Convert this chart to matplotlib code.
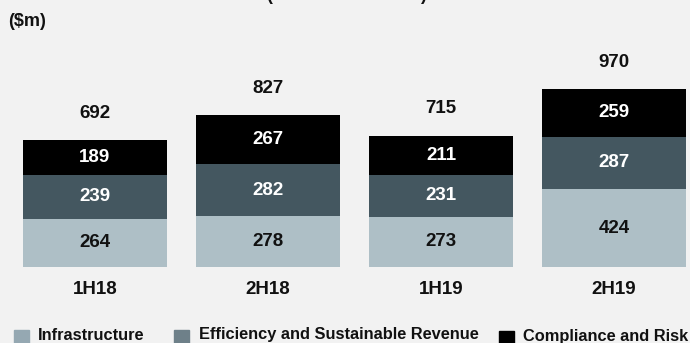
import matplotlib.pyplot as plt
import numpy as np
from matplotlib.patches import Rectangle

periods = ["1H18", "2H18", "1H19", "2H19"]
infrastructure = [264, 278, 273, 424]
efficiency = [239, 282, 231, 287]
compliance = [189, 267, 211, 259]
totals = [692, 827, 715, 970]
series_names = ["Infrastructure", "Efficiency and Sustainable Revenue", "Compliance and Risk"]

bg = "#f2f2f2"
c_infra = "#aebfc6"
c_eff = "#445760"
c_comp = "#000000"
leg_colors = ["#95a8b2", "#6e8089", "#000000"]

plt.rcParams['font.family'] = ['Liberation Sans', 'DejaVu Sans']
plt.rcParams['font.weight'] = 'bold'

fig = plt.figure(figsize=(6.9, 3.43), dpi=100, facecolor=bg)
W, H = 690, 343
ax = fig.add_axes([0, 76 / H, 1, 1 - 76 / H])
ax.set_facecolor(bg)
ax.axis("off")

x = np.arange(len(periods))
w = 0.832
infra = np.array(infrastructure)
eff = np.array(efficiency)
comp = np.array(compliance)
ax.bar(x, infra, w, color=c_infra)
ax.bar(x, eff, w, bottom=infra, color=c_eff)
ax.bar(x, comp, w, bottom=infra + eff, color=c_comp)
ax.set_xlim(-0.549, 3.439)
ax.set_ylim(0, 1455)

fs = 13.5
for i in range(len(periods)):
    ax.text(x[i], infra[i] / 2, str(infrastructure[i]), ha="center", va="center", fontsize=fs, color="#111111", fontweight="bold")
    ax.text(x[i], infra[i] + eff[i] / 2, str(efficiency[i]), ha="center", va="center", fontsize=fs, color="white", fontweight="bold")
    ax.text(x[i], infra[i] + eff[i] + comp[i] / 2, str(compliance[i]), ha="center", va="center", fontsize=fs, color="white", fontweight="bold")
    ax.text(x[i], totals[i] + 147, str(totals[i]), ha="center", va="center", fontsize=fs, color="#111111", fontweight="bold")
    ax.text(x[i], -120, periods[i], ha="center", va="center", fontsize=fs, color="#111111", fontweight="bold", clip_on=False)

fig.text(8 / W, 1 - 21 / H, "($m)", ha="left", va="center", fontsize=13, color="#111111", fontweight="bold")
# clipped title, only the bottoms of the brackets show
fig.text(269 / W, 1 + 5 / H, "(", ha="center", va="center", fontsize=13, color="#111111", fontweight="bold")
fig.text(423 / W, 1 + 5 / H, ")", ha="center", va="center", fontsize=13, color="#111111", fontweight="bold")

# legend along the bottom edge
leg_x = [14, 174, 499]
txt_x = [38, 199, 523]
leg_y = [330, 330, 331]
txt_y = [335, 335, 337]
for name, col, px, tx, py, ty in zip(series_names, leg_colors, leg_x, txt_x, leg_y, txt_y):
    fig.patches.append(Rectangle((px / W, 1 - (py + 13) / H), 15 / W, 13 / H,
                                 transform=fig.transFigure, color=col, figure=fig))
    fig.text(tx / W, 1 - ty / H, name, ha="left", va="center", fontsize=11.8, color="#111111", fontweight="bold")

fig.savefig("out.png", dpi=100, facecolor=bg)
